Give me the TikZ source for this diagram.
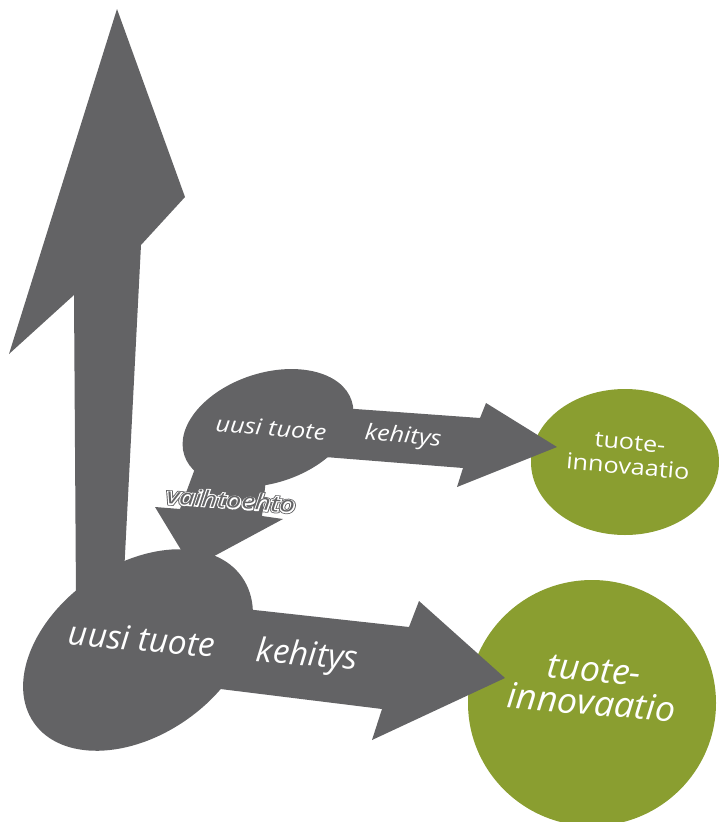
\documentclass[tikz,border=0pt]{standalone}
\usepackage{fontspec}
\setmainfont{Open Sans}
\newfontfamily\reunus[FakeBold=16]{Open Sans}
\newfontfamily\halo[FakeBold=9]{Open Sans}
\definecolor{harmaa}{RGB}{99,99,101}
\definecolor{vihrea}{RGB}{138,158,48}
\newcommand\ääriviiva[1]{\rlap{\reunus\itshape #1}\rlap{\color{white}\halo\itshape #1}#1}
\tikzset{
  pieni/.style={text=white,inner sep=0pt,font=\fontsize{12.5}{12.5}\selectfont\itshape,rotate=-5,xscale=1.15},
  iso/.style={text=white,inner sep=0pt,font=\fontsize{19}{19}\selectfont\itshape,rotate=-5},
  tulos/.style={align=center,inner sep=0pt,text=white}
}
\begin{document}
\begin{tikzpicture}[x=0.02cm,y=-0.02cm]
\useasboundingbox (0,0) rectangle (719,822);
\clip (0,0) rectangle (719,822);
% innovaatiot
\fill[vihrea] (625,462) ellipse [x radius=94,y radius=73];
\fill[vihrea] (592,703) ellipse [x radius=124,y radius=123];
% pystysuora nuoli
\fill[harmaa] (117,9) -- (185,197) -- (141,245) -- (124,574) -- (76,600) -- (74,295) -- (9,354) -- cycle;
% vaihtoehto
\fill[harmaa] (200,455) -- (268,460) -- (262,516) -- (283,519) -- (192,568) -- (155,507) -- (180,509) -- cycle;
% uusi tuote + kehitys
\fill[harmaa,rotate around={18:(268,428)}] (268,428) ellipse [x radius=88,y radius=55];
\fill[harmaa] (300,405) -- (480,418) -- (486,403) -- (557,447) -- (457,487) -- (463,468) -- (300,455) -- cycle;
\fill[harmaa,rotate around={35:(138,650)}] (138,650) ellipse [x radius=127,y radius=85];
\fill[harmaa] (200,604) -- (409,627) -- (419,601) -- (505,678) -- (372,740) -- (382,709) -- (180,684) -- cycle;
% tekstit
\node[pieni] (uusi1) at (271,428) {uusi tuote};
\node[pieni] (kehitys1) at (403,437) {kehitys};
\node[tulos,font=\fontsize{12.5}{14}\selectfont,rotate=-5,xscale=1.15] (innovaatio1) at (629,455) {tuote-\\innovaatio};
\node[iso] (uusi2) at (142,639) {uusi tuote};
\node[iso] (kehitys2) at (307,657) {kehitys};
\node[tulos,font=\fontsize{20}{19}\selectfont\itshape,rotate=-5,xscale=1.02] (innovaatio2) at (593,687) {tuote-\\innovaatio};
\node[pieni,text=harmaa,rotate=1,xscale=1.08] (vaihto) at (231,500) {\ääriviiva{vaihtoehto}};
\end{tikzpicture}
\end{document}
